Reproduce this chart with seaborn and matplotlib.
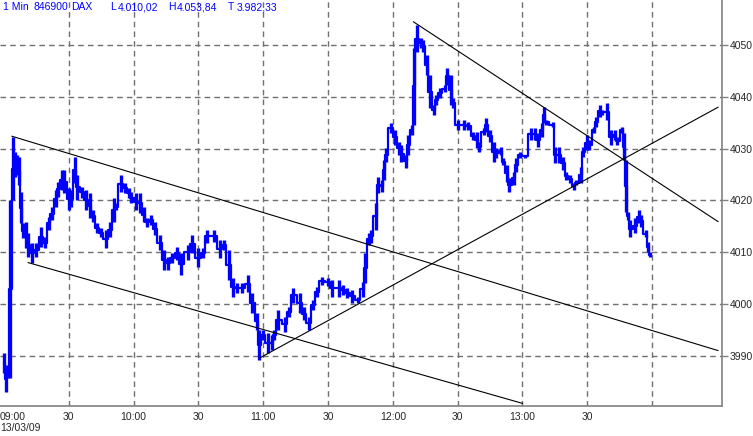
import numpy as np
import pandas as pd
import seaborn as sns
import matplotlib.pyplot as plt
import matplotlib.transforms as mtransforms

# 1-min DAX bars, minutes after 09:00 with low / high of each bar
minute = [0, 1, 2, 3, 4, 5, 6, 7, 8, 9, 10, 11, 13, 15, 17, 19, 21, 22, 24, 25,
          27, 28, 30, 31, 33, 34, 36, 38, 40, 41, 43, 45, 47, 49, 51, 52, 54, 56, 58, 59,
          61, 63, 65, 66, 68, 70, 72, 74, 76, 78, 80, 82, 85, 87, 90, 92, 94, 97, 100, 102,
          104, 106, 108, 110, 113, 115, 117, 118, 120, 122, 124, 125, 127, 130, 132, 134, 137, 139, 141, 143,
          145, 147, 150, 152, 155, 157, 159, 161, 164, 166, 167, 169, 170, 172, 173, 175, 176, 177, 179, 181,
          183, 184, 186, 187, 189, 190, 191, 193, 194, 196, 197, 199, 200, 202, 204, 205, 207, 208, 210, 213,
          215, 217, 219, 220, 222, 223, 225, 227, 228, 230, 231, 233, 234, 236, 237, 239, 241, 244, 246, 247,
          249, 250, 251, 254, 255, 257, 259, 260, 262, 264, 265, 267, 268, 270, 271, 273, 274, 276, 277, 279,
          281, 283, 284, 286, 287, 288, 289, 290, 292, 294, 295, 297, 298, 299]
low = [3986.7, 3983.0, 3985.7, 3985.7, 4020.1, 4024.5, 4024.9, 4023.0, 4015.6, 4012.7, 4010.8, 4009.1, 4007.9, 4009.1, 4011.0, 4010.8, 4014.3, 4016.2, 4018.7, 4020.7,
       4022.0, 4021.4, 4018.1, 4018.7, 4023.4, 4020.1, 4020.5, 4018.1, 4016.6, 4015.8, 4013.7, 4012.9, 4010.8, 4012.9, 4015.8, 4018.1, 4021.6, 4021.4, 4020.5, 4019.5,
       4018.1, 4017.6, 4015.8, 4014.9, 4015.3, 4013.3, 4010.4, 4006.6, 4006.6, 4007.9, 4008.5, 4005.6, 4008.5, 4009.8, 4007.1, 4008.9, 4011.8, 4012.0, 4008.9, 4010.4,
       4004.6, 4001.4, 4002.1, 4002.1, 4002.3, 3998.3, 3995.0, 3989.2, 3993.1, 3990.5, 3991.1, 3993.1, 3995.0, 3994.6, 3997.5, 4000.2, 3998.3, 3996.9, 3995.0, 3998.8,
       4001.4, 4003.7, 4003.5, 4001.4, 4001.4, 4001.7, 4001.2, 4000.2, 4000.2, 4001.4, 4004.1, 4011.4, 4011.8, 4014.3, 4021.4, 4021.6, 4023.9, 4027.4, 4033.0, 4030.7,
       4028.8, 4027.4, 4026.3, 4028.8, 4032.6, 4034.6, 4048.6, 4049.4, 4048.6, 4044.2, 4037.8, 4036.5, 4038.4, 4039.8, 4040.9, 4042.3, 4038.4, 4037.8, 4033.6, 4033.6,
       4033.6, 4031.7, 4030.1, 4029.3, 4032.6, 4033.2, 4031.3, 4027.4, 4028.2, 4028.8, 4026.8, 4023.6, 4021.6, 4023.0, 4025.5, 4028.2, 4028.2, 4031.7, 4031.7, 4030.3,
       4032.2, 4034.9, 4034.6, 4034.2, 4027.2, 4027.2, 4025.9, 4023.9, 4023.4, 4022.0, 4023.0, 4023.4, 4028.4, 4029.7, 4029.7, 4033.0, 4034.2, 4036.1, 4036.5, 4035.5,
       4030.7, 4031.7, 4030.7, 4033.0, 4027.8, 4017.8, 4016.2, 4012.9, 4013.7, 4015.6, 4014.9, 4012.9, 4010.0, 4009.1]
high = [3990.5, 3988.2, 3987.8, 4020.1, 4032.2, 4029.3, 4028.8, 4028.4, 4021.6, 4015.6, 4015.8, 4013.7, 4011.8, 4011.8, 4014.9, 4012.9, 4016.8, 4018.7, 4022.0, 4023.6,
        4025.9, 4025.9, 4022.4, 4022.0, 4028.4, 4024.9, 4022.6, 4022.0, 4021.4, 4018.1, 4015.6, 4014.7, 4014.3, 4015.8, 4020.5, 4019.5, 4024.9, 4023.4, 4022.4, 4021.6,
        4021.4, 4021.4, 4018.7, 4016.6, 4017.2, 4015.8, 4013.3, 4010.4, 4009.1, 4009.8, 4011.0, 4009.8, 4011.4, 4013.3, 4010.8, 4010.8, 4014.3, 4014.3, 4012.4, 4012.4,
        4010.4, 4005.0, 4004.1, 4004.1, 4005.6, 4002.1, 3998.3, 3995.0, 3995.0, 3994.4, 3994.0, 3995.0, 3998.8, 3997.5, 3999.4, 4003.1, 4002.1, 3999.4, 3997.5, 4000.8,
        4003.3, 4005.2, 4005.0, 4004.6, 4004.6, 4003.7, 4003.1, 4002.7, 4001.4, 4004.3, 4009.8, 4013.7, 4014.3, 4019.5, 4024.5, 4023.9, 4027.8, 4030.1, 4034.9, 4033.6,
        4031.3, 4030.7, 4028.8, 4032.6, 4034.6, 4049.4, 4053.8, 4051.4, 4051.0, 4048.1, 4044.2, 4038.4, 4040.3, 4041.7, 4042.3, 4045.6, 4044.2, 4039.8, 4035.5, 4035.5,
        4035.1, 4033.2, 4033.2, 4031.3, 4034.0, 4035.9, 4033.6, 4031.3, 4030.1, 4030.3, 4028.2, 4026.8, 4024.3, 4025.5, 4028.2, 4029.3, 4028.8, 4034.0, 4034.0, 4033.0,
        4034.9, 4038.0, 4035.5, 4035.1, 4030.3, 4030.3, 4028.4, 4025.5, 4024.9, 4023.4, 4023.9, 4026.4, 4030.3, 4032.6, 4031.7, 4034.2, 4036.1, 4038.4, 4037.5, 4038.8,
        4033.6, 4033.6, 4032.2, 4034.2, 4033.0, 4027.8, 4017.8, 4016.2, 4016.6, 4018.1, 4017.2, 4014.3, 4012.0, 4010.0]

# hand-drawn trend lines (start minute, start price, end minute, end price)
trend_x0 = [3.6, 11.1, 118.5, 189.5]
trend_y0 = [4032.4, 4008.0, 3989.6, 4054.5]
trend_x1 = [330.6, 240.1, 330.6, 330.6]
trend_y1 = [3991.0, 3980.8, 4038.0, 4015.9]

tick_min = [0, 30, 60, 90, 120, 150, 180, 210, 240, 270, 300]
tick_lab = ['09:00', '30', '10:00', '30', '11:00', '30', '12:00', '30', '13:00', '30', '']
price_ticks = [3990, 4000, 4010, 4020, 4030, 4040, 4050]

header = [('1 Min', 3), ('846900', 33), ('DAX', 71), ('L', 110), ('4.010,02', 118),
          ('H', 168), ('4.053,84', 177), ('T', 228), ('3.982,33', 237)]

sns.set_style('white')
plt.rcParams['font.family'] = ['Liberation Sans', 'DejaVu Sans']

df = pd.DataFrame({'minute': minute, 'low': low, 'high': high})
df['mid'] = (df['low'] + df['high']) / 2

fig = plt.figure(figsize=(7.53, 4.36), dpi=100)
ax = fig.add_axes([0.0, 1 - 406 / 436, 722 / 753, 406 / 436])

blue = '#0000ff'
ax.vlines(df['minute'], df['low'], df['high'], color=blue, lw=2.4, zorder=3)
sns.lineplot(data=df, x='minute', y='mid', ax=ax, color=blue, lw=1.6,
             drawstyle='steps-mid', zorder=3)

for i in range(len(trend_x0)):
    ax.plot([trend_x0[i], trend_x1[i]], [trend_y0[i], trend_y1[i]],
            color='black', lw=0.8, zorder=4)

ax.set_xlim(-1.85, 332.4)
ax.set_ylim(3980.3, 4058.7)

ax.set_xticks(tick_min)
ax.set_xticklabels(tick_lab)
ax.set_yticks(price_ticks)
ax.yaxis.tick_right()
ax.tick_params(axis='both', direction='out', length=4, width=1, color='#808080',
               labelsize=7.5, pad=1.5)
ax.tick_params(axis='x', pad=0.5)
ax.set_xlabel('')
ax.set_ylabel('')

ax.grid(True, color='#707070', ls=(0, (4, 3)), lw=1)
for s in ['left', 'top']:
    ax.spines[s].set_visible(False)
for s in ['right', 'bottom']:
    ax.spines[s].set_color('#808080')
    ax.spines[s].set_linewidth(1.2)

# 09:00 sits at the very left edge: no grid line there, label pushed inside
ax.xaxis.get_gridlines()[0].set_visible(False)
ax.xaxis.get_major_ticks()[0].tick1line.set_visible(False)
first = ax.get_xticklabels()[0]
first.set_ha('left')
first.set_transform(first.get_transform() +
                    mtransforms.ScaledTranslation(-4 / 100, 0, fig.dpi_scale_trans))

# header line and date
for txt, px in header:
    fig.text(px / 753, 1 - 7 / 436, txt, color=blue, fontsize=7.5, va='center', ha='left')
fig.text(0.0, 1 - 428 / 436, '13/03/09', fontsize=7.5, va='center', ha='left')

fig.savefig('out.png', dpi=100)
